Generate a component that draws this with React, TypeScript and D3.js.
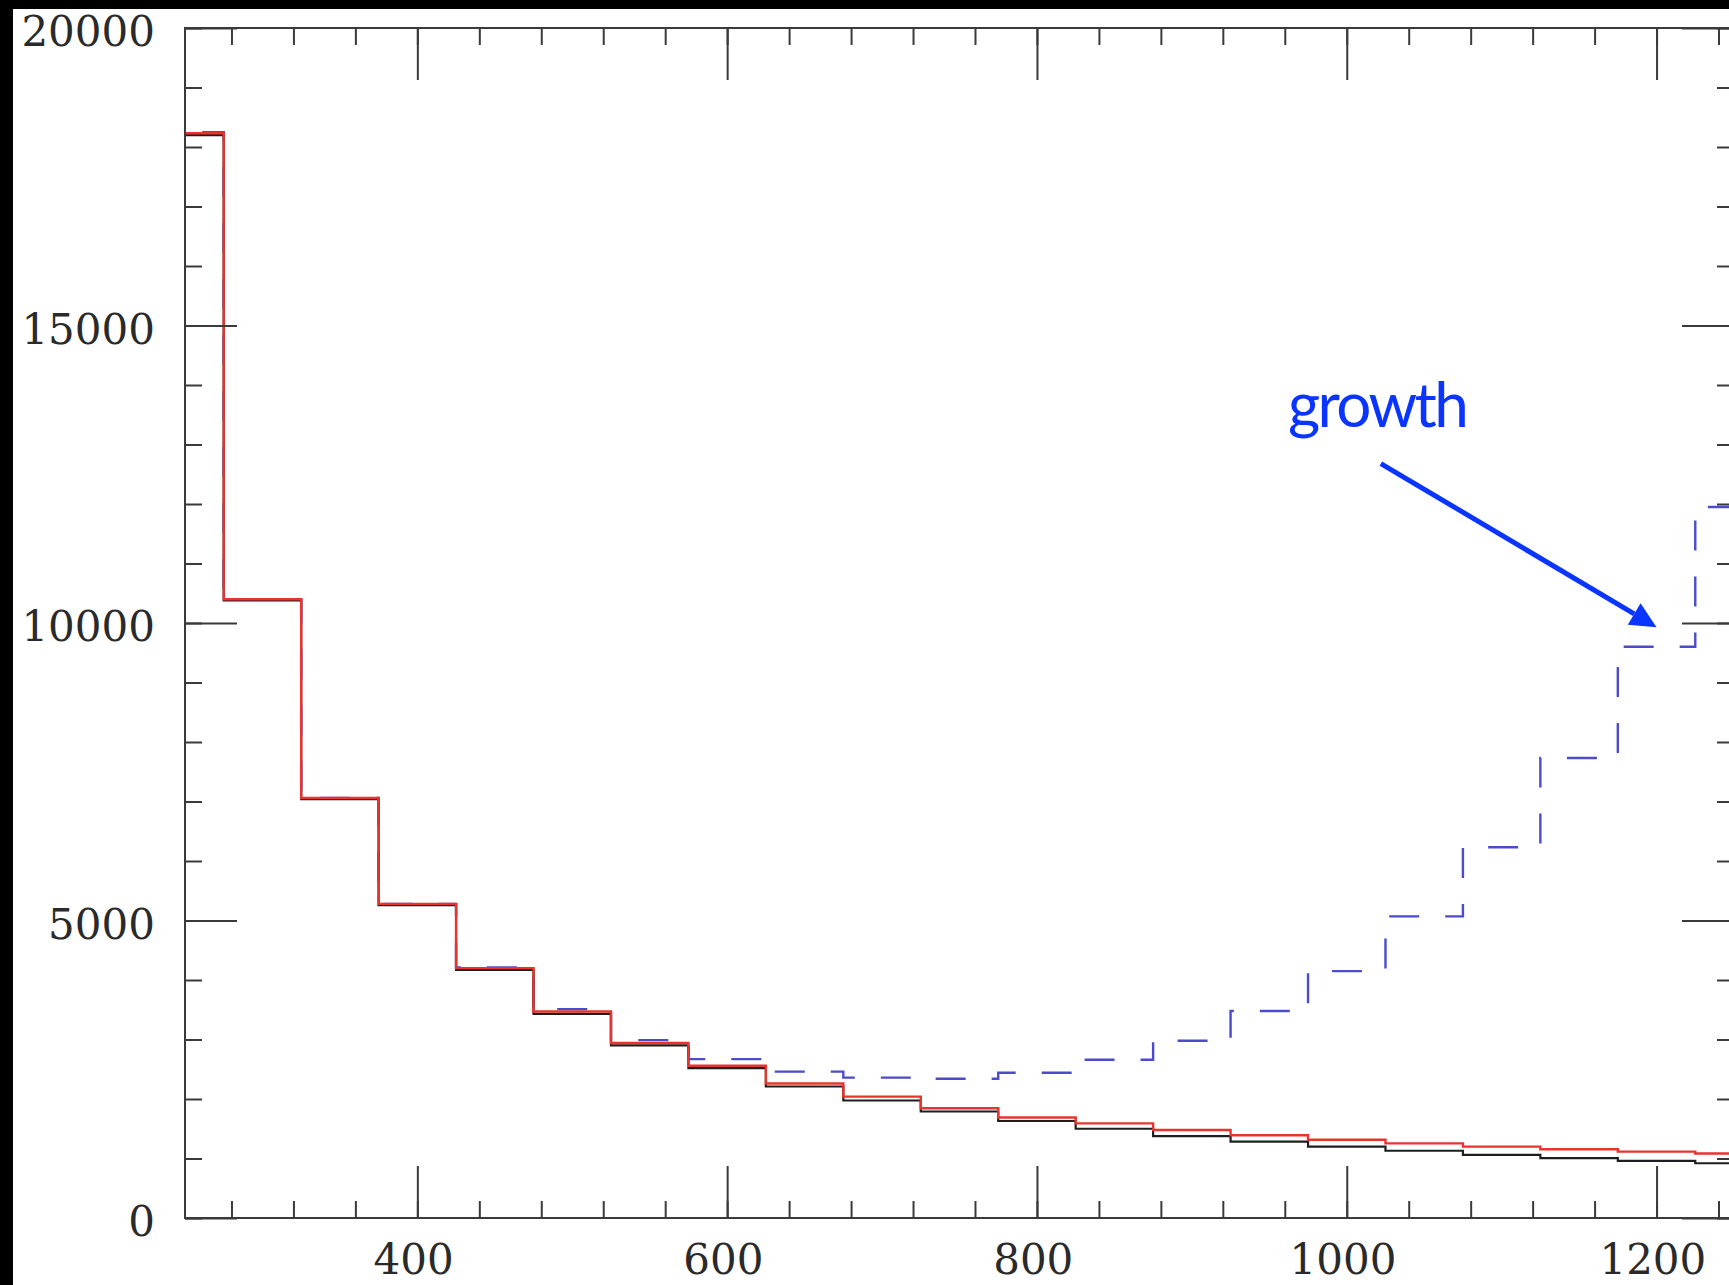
import * as d3 from "d3";
import React, {useRef, useEffect} from "react";

// histogram bins (width 50), first and last bins are cut by the frame
const binEdges = [225, 275, 325, 375, 425, 475, 525, 575, 625, 675, 725, 775, 825, 875, 925, 975, 1025, 1075, 1125, 1175, 1225, 1275];

const countsBlack = [18200, 10380, 7040, 5260, 4170, 3430, 2900, 2520, 2210, 1975, 1790, 1630, 1500, 1375, 1285, 1200, 1130, 1060, 1005, 960, 920];
const countsRed = [18230, 10400, 7060, 5280, 4200, 3470, 2940, 2560, 2260, 2040, 1845, 1690, 1590, 1480, 1390, 1315, 1255, 1200, 1155, 1115, 1085];
const countsGrowth = [18250, 10400, 7060, 5280, 4210, 3510, 2990, 2670, 2460, 2360, 2340, 2440, 2660, 2980, 3480, 4150, 5070, 6230, 7730, 9600, 11950];

const xMajorTicks = [400, 600, 800, 1000, 1200];
const yMajorTicks = [0, 5000, 10000, 15000, 20000];

const annotationText = "growth";
const annotationTextAt = [962, 13300];
const arrowFrom = [1022, 12680];
const arrowTo = [1200, 9930];

function App() {

    const ref = useRef<SVGSVGElement>(null);

    useEffect(() => {

        const svg = d3.select(ref.current);
        svg.selectAll("*").remove();

        const width = 1729;
        const height = 1285;
        const frame = {left: 185, top: 28, right: 1734, bottom: 1218};
        const axisColor = "#3a3a3a";
        const labelFont = "'DejaVu Serif', serif";

        svg.append("rect")
            .attr("width", width)
            .attr("height", height)
            .attr("fill", "#fff");

        const x = d3.scaleLinear().domain([250, 1250]).range([frame.left, frame.right]);
        const y = d3.scaleLinear().domain([0, 20000]).range([frame.bottom, frame.top]);

        svg.append("defs")
            .append("clipPath")
            .attr("id", "plot-clip")
            .append("rect")
            .attr("x", frame.left)
            .attr("y", frame.top)
            .attr("width", frame.right - frame.left)
            .attr("height", frame.bottom - frame.top);

        // step outline of each histogram
        const stepLine = d3.line<[number, number]>()
            .x(d => x(d[0]))
            .y(d => y(d[1]))
            .curve(d3.curveStepAfter);

        const toSteps = (values: number[]): [number, number][] =>
            [...values.map((v, i) => [binEdges[i], v] as [number, number]),
             [binEdges[values.length], values[values.length - 1]]];

        // dashed one goes underneath, red on top
        const series = [
            {values: countsGrowth, color: "#4b4bcc", width: 2.4, dash: "30 26"},
            {values: countsBlack, color: "#1e1e1e", width: 2.2, dash: null},
            {values: countsRed, color: "#e8342c", width: 2.4, dash: null},
        ];

        const plot = svg.append("g").attr("clip-path", "url(#plot-clip)");

        series.forEach(s => {
            plot.append("path")
                .attr("d", stepLine(toSteps(s.values)))
                .attr("fill", "none")
                .attr("stroke", s.color)
                .attr("stroke-width", s.width)
                .attr("stroke-dasharray", s.dash);
        });

        const xMinor = d3.range(280, 1250, 40);
        const yMinor = d3.range(0, 20001, 1000);

        function tidy(g) {
            g.select(".domain").remove();
            g.selectAll("line").attr("stroke", axisColor).attr("stroke-width", 2);
            g.attr("font-family", labelFont).attr("font-size", 42);
            g.selectAll("text").attr("fill", "#2a2a2a");
        }

        // ticks point inwards on all four sides
        svg.append("g")
            .attr("transform", `translate(0,${frame.bottom})`)
            .call(d3.axisBottom(x).tickValues(xMinor).tickSize(-17).tickFormat(() => ""))
            .call(tidy);
        svg.append("g")
            .attr("transform", `translate(0,${frame.bottom})`)
            .call(d3.axisBottom(x).tickValues(xMajorTicks).tickSize(-52).tickPadding(26).tickFormat(d3.format("d")))
            .call(tidy)
            .selectAll("text")
            .attr("dx", "-0.1em");

        svg.append("g")
            .attr("transform", `translate(0,${frame.top})`)
            .call(d3.axisTop(x).tickValues(xMinor).tickSize(-17).tickFormat(() => ""))
            .call(tidy);
        svg.append("g")
            .attr("transform", `translate(0,${frame.top})`)
            .call(d3.axisTop(x).tickValues(xMajorTicks).tickSize(-52).tickFormat(() => ""))
            .call(tidy);

        svg.append("g")
            .attr("transform", `translate(${frame.left},0)`)
            .call(d3.axisLeft(y).tickValues(yMinor).tickSize(-17).tickFormat(() => ""))
            .call(tidy);
        svg.append("g")
            .attr("transform", `translate(${frame.left},0)`)
            .call(d3.axisLeft(y).tickValues(yMajorTicks).tickSize(-52).tickPadding(30).tickFormat(d3.format("d")))
            .call(tidy)
            .selectAll("text")
            .attr("dy", "0.42em");

        svg.append("g")
            .attr("transform", `translate(${frame.right},0)`)
            .call(d3.axisRight(y).tickValues(yMinor).tickSize(-17).tickFormat(() => ""))
            .call(tidy);
        svg.append("g")
            .attr("transform", `translate(${frame.right},0)`)
            .call(d3.axisRight(y).tickValues(yMajorTicks).tickSize(-52).tickFormat(() => ""))
            .call(tidy);

        svg.append("rect")
            .attr("x", frame.left)
            .attr("y", frame.top)
            .attr("width", frame.right - frame.left)
            .attr("height", frame.bottom - frame.top)
            .attr("fill", "none")
            .attr("stroke", axisColor)
            .attr("stroke-width", 2);

        // annotation
        const blue = "#0a34ff";
        svg.append("text")
            .attr("x", x(annotationTextAt[0]))
            .attr("y", y(annotationTextAt[1]))
            .attr("font-family", "Lato, 'Open Sans', sans-serif")
            .attr("font-size", 62)
            .attr("textLength", 181)
            .attr("fill", blue)
            .text(annotationText);

        const x0 = x(arrowFrom[0]), y0 = y(arrowFrom[1]);
        const x1 = x(arrowTo[0]), y1 = y(arrowTo[1]);
        const angle = Math.atan2(y1 - y0, x1 - x0);
        const headLen = 26, headHalf = 12.5;
        const bx = x1 - headLen * Math.cos(angle), by = y1 - headLen * Math.sin(angle);

        svg.append("line")
            .attr("x1", x0).attr("y1", y0)
            .attr("x2", bx).attr("y2", by)
            .attr("stroke", blue)
            .attr("stroke-width", 5);

        svg.append("path")
            .attr("d", `M${x1},${y1}L${bx + headHalf * Math.sin(angle)},${by - headHalf * Math.cos(angle)}L${bx - headHalf * Math.sin(angle)},${by + headHalf * Math.cos(angle)}Z`)
            .attr("fill", blue);

        // black borders of the cropped screenshot
        svg.append("rect").attr("x", 0).attr("y", 0).attr("width", width).attr("height", 9).attr("fill", "#000");
        svg.append("rect").attr("x", 0).attr("y", 0).attr("width", 13).attr("height", height).attr("fill", "#000");

    }, []);

    return (
        <svg ref={ref} width={1729} height={1285}
             style={{position: "absolute", left: 0, top: 0, display: "block"}}/>
    );
}

export default App;
